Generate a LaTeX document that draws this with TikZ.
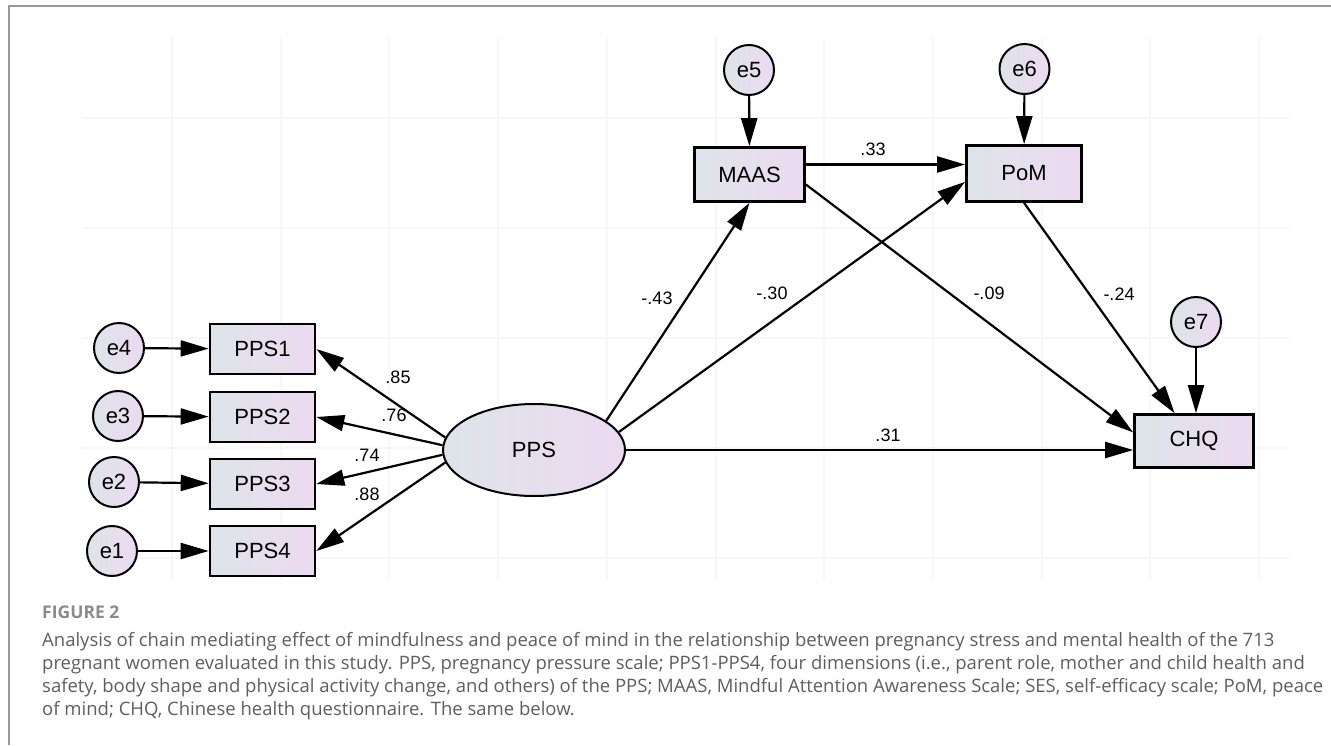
\documentclass[tikz,border=0pt]{standalone}
\usepackage{fontspec}
\setmainfont{Liberation Sans}
\newfontfamily\capfont{Open Sans}
\usetikzlibrary{shapes,shapes.geometric,arrows.meta,calc}
\definecolor{semleft}{HTML}{DDE4E9}
\definecolor{semright}{HTML}{EDDAF1}
\definecolor{capgray}{HTML}{5E5E5E}
\definecolor{figgray}{HTML}{8A8A8A}
\tikzset{
  semnode/.style = {align=center, inner sep=0pt, text centered, font=\fontsize{22}{24}\selectfont, draw=black, left color=semleft, right color=semright},
  obs_v/.style = {semnode, rectangle, line width=2.6pt, minimum width=105pt, minimum height=50pt},
  lat_v/.style = {semnode, ellipse, line width=2pt, minimum width=182pt, minimum height=92pt},
  err_v/.style = {semnode, circle, line width=2pt, minimum size=50pt},
  path_arr/.style = {-{Triangle[length=28pt,width=16pt]}, line width=2.2pt},
  coef/.style = {inner sep=0pt, font=\fontsize{18}{20}\selectfont},
  gridline/.style = {line width=2pt, black!3},
  captext/.style = {anchor=base west, inner sep=0pt, font=\capfont\fontsize{18.5}{22}\selectfont, text=capgray}
}

\begin{document}
\begin{tikzpicture}[x=1pt, y=-1pt]
	\useasboundingbox (0,0) rectangle (1331,745);
	% faint background grid
	\foreach \gx in {0,...,10}
		\draw[gridline] ({172+108.7*\gx},38) -- ({172+108.7*\gx},580);
	\foreach \gy in {118,228,338,448,558}
		\draw[gridline] (82,\gy) -- (1290,\gy);
	\draw[line width=1.5pt, black!40] (1331,6) -- (9,6) -- (9,745);

	% measurement part
	\node [obs_v] (pps1) at (262.5,349) {PPS1};
	\node [obs_v] (pps2) at (262.5,417) {PPS2};
	\node [obs_v] (pps3) at (262.5,484) {PPS3};
	\node [obs_v] (pps4) at (262.5,551) {PPS4};
	\node [err_v] (e4) at (119,348) {e4};
	\node [err_v] (e3) at (118,416) {e3};
	\node [err_v] (e2) at (114,482) {e2};
	\node [err_v] (e1) at (112,551) {e1};
	\node [lat_v] (pps) at (534,450) {PPS};

	% structural part
	\node [obs_v, minimum width=110pt, minimum height=54pt] (maas) at (749.5,174.5) {MAAS};
	\node [obs_v, minimum width=115pt, minimum height=56pt] (pom) at (1024,173.5) {PoM};
	\node [obs_v, minimum width=119pt, minimum height=53pt] (chq) at (1194,441) {CHQ};
	\node [err_v] (e5) at (749,70) {e5};
	\node [err_v] (e6) at (1024.5,69) {e6};
	\node [err_v] (e7) at (1196,322) {e7};

	\draw[path_arr] (e4) -- (pps1);
	\draw[path_arr] (e3) -- (pps2);
	\draw[path_arr] (e2) -- (pps3);
	\draw[path_arr] (e1) -- (pps4);
	\draw[path_arr] (pps.172) -- (pps1.east);
	\draw[path_arr] (pps.177) -- (pps2.east);
	\draw[path_arr] (pps.183) -- (pps3.east);
	\draw[path_arr] (pps.188) -- (pps4.east);

	\draw[path_arr] (e5) -- (maas);
	\draw[path_arr] (e6) -- (pom);
	\draw[path_arr] (e7) -- (e7 |- chq.north);
	\draw[path_arr] (pps.22) -- (maas.south);
	\draw[path_arr] (pps.12) -- (pom.188);
	\draw[path_arr] (pps.east) -- (pps.east -| chq.west);
	\draw[path_arr] ([yshift=10pt]maas.east) -- ([yshift=10pt]maas.east -| pom.west);
	\draw[path_arr] (maas.-10) -- (chq.172);
	\draw[path_arr] (pom.south) -- (chq.125);

	% estimates
	\node [coef] (c_pps1) at (398,377) {.85};
	\node [coef] (c_pps2) at (394,415) {.76};
	\node [coef] (c_pps3) at (367,455) {.74};
	\node [coef] (c_pps4) at (367,494) {.88};
	\node [coef] (c_maas) at (657,298) {-.43};
	\node [coef] (c_pom) at (772,293) {-.30};
	\node [coef] (c_mc) at (989,293) {-.09};
	\node [coef] (c_pc) at (1119,294) {-.24};
	\node [coef] (c_mp) at (873,149) {.33};
	\node [coef] (c_chq) at (888,435) {.31};

	% caption
	\node [captext, font=\capfont\bfseries\fontsize{17.5}{20}\selectfont, text=figgray] (fig) at (42,618) {FIGURE 2};
	\node [captext] (cap1) at (42,646) {Analysis of chain mediating effect of mindfulness and peace of mind in the relationship between pregnancy stress and mental health of the 713};
	\node [captext] (cap2) at (42,669) {pregnant women evaluated in this study. PPS, pregnancy pressure scale; PPS1-PPS4, four dimensions (i.e., parent role, mother and child health and};
	\node [captext] (cap3) at (42,692) {safety, body shape and physical activity change, and others) of the PPS; MAAS, Mindful Attention Awareness Scale; SES, self-efficacy scale; PoM, peace};
	\node [captext] (cap4) at (42,715) {of mind; CHQ, Chinese health questionnaire. The same below.};
\end{tikzpicture}
\end{document}
